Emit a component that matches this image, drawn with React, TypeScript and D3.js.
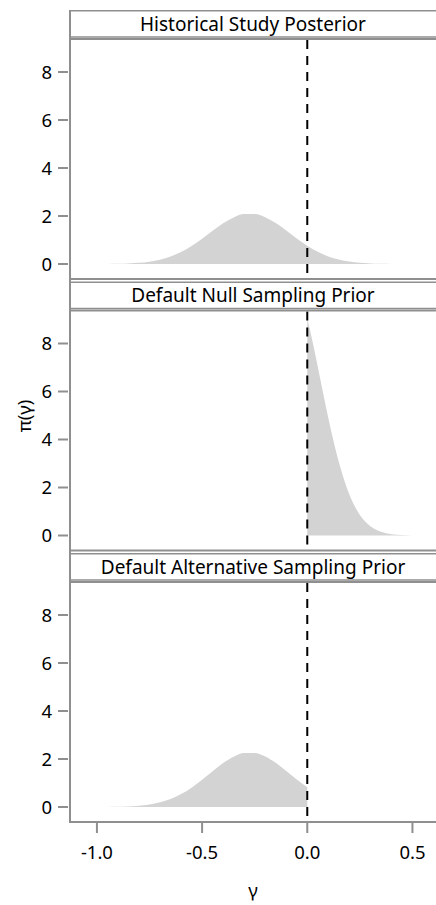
import React from "react";
import * as d3 from "d3";

const panelTitles = [
  "Historical Study Posterior",
  "Default Null Sampling Prior",
  "Default Alternative Sampling Prior",
];

// Historical study posterior
const histX = [-1.05, -1.0, -0.95, -0.9, -0.85, -0.8, -0.75, -0.7, -0.65, -0.6, -0.55, -0.5, -0.45, -0.4, -0.35, -0.3, -0.25, -0.2, -0.15, -0.1, -0.05, 0.0, 0.05, 0.1, 0.15, 0.2, 0.25, 0.3, 0.35, 0.4, 0.45, 0.5];
const histY = [0.0006, 0.0016, 0.0042, 0.0103, 0.0233, 0.0493, 0.0973, 0.179, 0.309, 0.497, 0.747, 1.05, 1.381, 1.694, 1.942, 2.082, 2.085, 1.95, 1.705, 1.393, 1.064, 0.759, 0.506, 0.315, 0.184, 0.0998, 0.0507, 0.024, 0.0107, 0.0044, 0.0017, 0.0006];

// Default null sampling prior
const nullX = [0.0, 0.025, 0.05, 0.075, 0.1, 0.125, 0.15, 0.175, 0.2, 0.225, 0.25, 0.275, 0.3, 0.35, 0.4, 0.45, 0.5, 0.55];
const nullY = [9.04, 8.08, 7.03, 5.95, 4.9, 3.93, 3.06, 2.32, 1.71, 1.23, 0.856, 0.581, 0.384, 0.154, 0.0555, 0.0179, 0.0052, 0.0013];

// Default alternative sampling prior
const altX = [-1.05, -1.0, -0.95, -0.9, -0.85, -0.8, -0.75, -0.7, -0.65, -0.6, -0.55, -0.5, -0.45, -0.4, -0.35, -0.3, -0.25, -0.2, -0.15, -0.1, -0.05, 0.0];
const altY = [0.0006, 0.0017, 0.0045, 0.0111, 0.0252, 0.0532, 0.105, 0.193, 0.334, 0.537, 0.807, 1.134, 1.491, 1.83, 2.097, 2.249, 2.252, 2.106, 1.841, 1.504, 1.149, 0.82];

const seriesX = [histX, nullX, altX];
const seriesY = [histY, nullY, altY];

const xTicks = [-1.0, -0.5, 0.0, 0.5];
const yTicks = [0, 2, 4, 6, 8];
const refLine = 0;

const W = 436;
const H = 905;
const left = 70;
const right = 436;
const top0 = 10;
const rowStep = 271.5;
const stripH = 27;
const plotOff = 29;
const plotH = 240;
const FONT = "'Noto Sans', 'Open Sans', sans-serif";
const GRAY = "#8f8f8f";
const FILL = "#d3d3d3";

export default function App() {
  const x = d3.scaleLinear().domain([-1.128, 0.612]).range([left, right]);
  const lastBottom = top0 + 2 * rowStep + plotOff + plotH;

  return (
    <svg
      width={W}
      height={H}
      style={{ position: "absolute", left: 0, top: 0, background: "#fff" }}
      fontFamily={FONT}
    >
      <rect x={0} y={0} width={W} height={H} fill="#fff" />
      {panelTitles.map((title, i) => {
        const rowTop = top0 + i * rowStep;
        const pTop = rowTop + plotOff;
        const pBot = pTop + plotH;
        const y = d3.scaleLinear().domain([-0.625, 9.375]).range([pBot, pTop]);
        const data = seriesX[i].map((v, k) => ({ x: v, y: seriesY[i][k] }));
        const area = d3
          .area<{ x: number; y: number }>()
          .x((d) => x(d.x))
          .y0(y(0))
          .y1((d) => y(d.y))
          .curve(d3.curveMonotoneX);
        return (
          <g key={title}>
            <rect
              x={left}
              y={rowTop + 0.75}
              width={right - left + 10}
              height={stripH - 0.75}
              fill="#fff"
              stroke={GRAY}
              strokeWidth={1.5}
            />
            <text
              x={(left + right) / 2}
              y={rowTop + 20.5}
              textAnchor="middle"
              fontSize={19}
              fill="#000"
            >
              {title}
            </text>
            <path d={area(data) || ""} fill={FILL} />
            <line
              x1={x(refLine)}
              x2={x(refLine)}
              y1={pTop + 1}
              y2={pBot}
              stroke="#000"
              strokeWidth={2}
              strokeDasharray="9 7"
            />
            <rect
              x={left}
              y={pTop}
              width={right - left + 10}
              height={plotH}
              fill="none"
              stroke={GRAY}
              strokeWidth={2}
            />
            {yTicks.map((t) => (
              <g key={t}>
                <line x1={58} x2={68} y1={y(t)} y2={y(t)} stroke={GRAY} strokeWidth={2} />
                <text
                  x={52}
                  y={y(t)}
                  dy="0.36em"
                  textAnchor="end"
                  fontSize={18.5}
                  fill="#000"
                >
                  {t}
                </text>
              </g>
            ))}
          </g>
        );
      })}
      <line x1={left} x2={left} y1={top0} y2={lastBottom + 1} stroke={GRAY} strokeWidth={2} />
      {xTicks.map((t) => (
        <g key={t}>
          <line
            x1={x(t)}
            x2={x(t)}
            y1={lastBottom + 1}
            y2={lastBottom + 11}
            stroke={GRAY}
            strokeWidth={2}
          />
          <text
            x={x(t)}
            y={lastBottom + 30.5}
            dy="0.36em"
            textAnchor="middle"
            fontSize={18.5}
            fill="#000"
          >
            {t.toFixed(1)}
          </text>
        </g>
      ))}
      <text
        x={(left + right) / 2}
        y={890}
        dy="0.36em"
        textAnchor="middle"
        fontSize={18.5}
        fill="#000"
      >
        γ
      </text>
      <text
        transform={`translate(24, ${(top0 + lastBottom) / 2}) rotate(-90)`}
        dy="0.36em"
        textAnchor="middle"
        fontSize={18.5}
        fill="#000"
      >
        π(γ)
      </text>
    </svg>
  );
}
